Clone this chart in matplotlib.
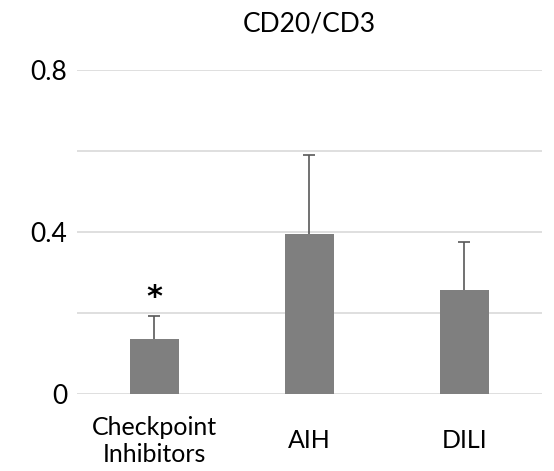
import numpy as np
import matplotlib.pyplot as plt
from matplotlib.transforms import blended_transform_factory

plt.rcParams['font.family'] = ['Lato', 'DejaVu Sans']

groups = ['Checkpoint\nInhibitors', 'AIH', 'DILI']
ratio = [0.135, 0.396, 0.258]
err = [0.058, 0.195, 0.117]

fig = plt.figure(figsize=(5.54, 4.71), dpi=100)
ax = fig.add_axes([0.139, 0.1635, 0.839, 0.6879])

x = np.arange(len(groups))
ax.bar(x, ratio, width=0.32, color='#7f7f7f', zorder=3)
line, caps, bars = ax.errorbar(x, ratio, yerr=[np.zeros(3), err], fmt='none',
                               ecolor='#595959', elinewidth=1.2, capsize=4,
                               capthick=1.2, zorder=4)
caps[0].set_visible(False)  # only the upper whisker

# significance mark above the first group
ax.text(x[0], ratio[0] + err[0] + 0.045, '*', ha='center', va='center',
        fontsize=22, fontweight='bold', family='DejaVu Sans', color='black')

ax.set_xlim(-0.5, 2.5)
ax.set_ylim(0, 0.8)
ax.set_yticks([0, 0.4, 0.8])
ax.set_yticklabels(['0', '0.4', '0.8'])
ax.set_yticks([0.2, 0.6], minor=True)
ax.set_xticks(x)
ax.set_xticklabels([])
ax.grid(True, axis='y', which='both', color='#d9d9d9', linewidth=1.2, zorder=0)
ax.tick_params(axis='both', which='both', length=0, colors='black')
ax.tick_params(axis='y', labelsize=19, pad=7)
for s in ax.spines.values():
    s.set_visible(False)

# category names centred vertically under each bar
trans = blended_transform_factory(ax.transData, ax.transAxes)
for xi, name in zip(x, groups):
    ax.text(xi, -0.145, name, transform=trans, ha='center', va='center',
            fontsize=18, linespacing=1.25)

ax.set_title('CD20/CD3', fontsize=19, pad=28)

fig.savefig('out.png', dpi=100)
